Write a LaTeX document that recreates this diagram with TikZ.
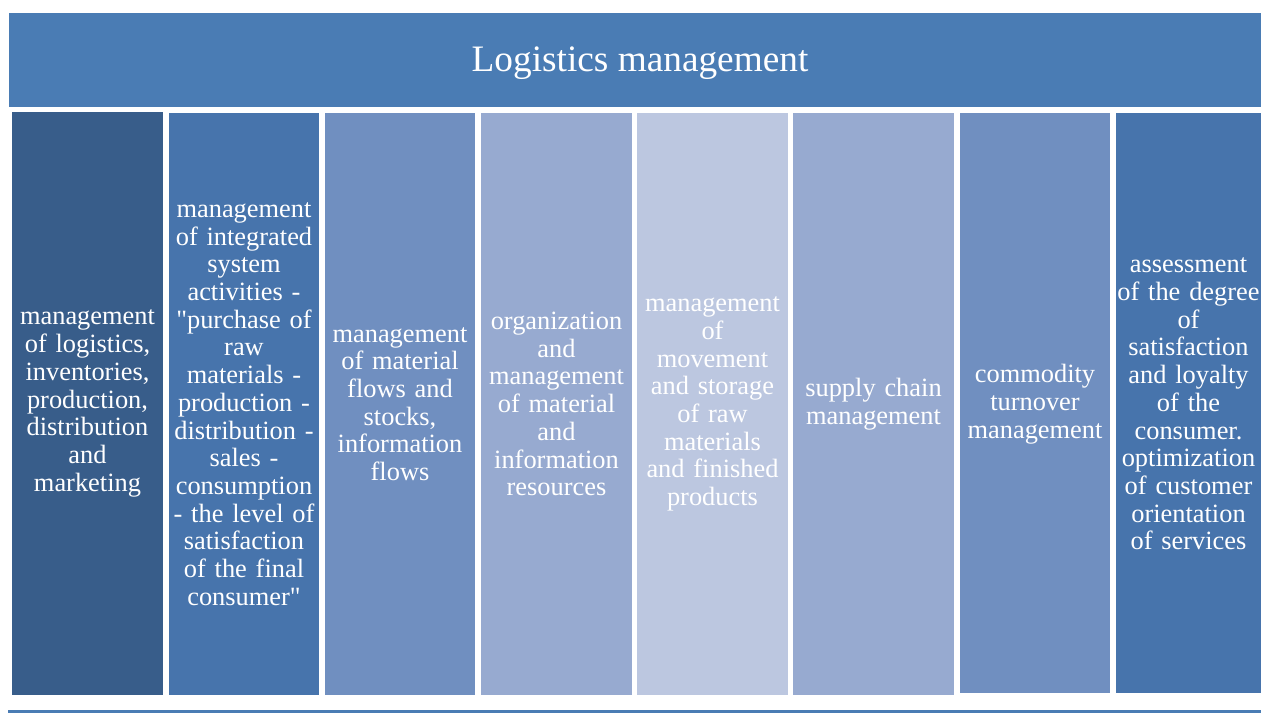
\documentclass[tikz,border=0pt]{standalone}
\usepackage{fontspec}
\setmainfont{Liberation Serif}
\definecolor{hdr}{HTML}{4A7CB4}
\definecolor{cA}{HTML}{385D8A}
\definecolor{cB}{HTML}{4774AC}
\definecolor{cC}{HTML}{708FC0}
\definecolor{cD}{HTML}{97AAD0}
\definecolor{cE}{HTML}{BCC7E0}
\begin{document}
\begin{tikzpicture}[x=1pt,y=-1pt,
  colbox/.style={inner sep=0pt, align=center, text=white,
    font=\fontsize{26.4pt}{27.7pt}\selectfont}]
\useasboundingbox[fill=white] (0,0) rectangle (1261,713);
% header
\fill[hdr] (9,13) rectangle (1261,107);
\node[text=white, font=\fontsize{37.3pt}{40pt}\selectfont] (title) at (640,63) {Logistics management};
% columns
\fill[cA] (12,112) rectangle (163,695);
\node[colbox, text width=151pt] (c1) at (87.5,403.5) {management\\of logistics,\\inventories,\\production,\\distribution\\and\\marketing};
\fill[cB] (169,113) rectangle (319,695);
\node[colbox, text width=150pt] (c2) at (244,404) {management\\of integrated\\system\\activities -\\\textquotedbl purchase of\\raw\\materials -\\production -\\distribution -\\sales -\\consumption\\- the level of\\satisfaction\\of the final\\consumer\textquotedbl};
\fill[cC] (325,113) rectangle (475,695);
\node[colbox, text width=150pt] (c3) at (400,404) {management\\of material\\flows and\\stocks,\\information\\flows};
\fill[cD] (481,113) rectangle (632,695);
\node[colbox, text width=151pt] (c4) at (556.5,404) {organization\\and\\management\\of material\\and\\information\\resources};
\fill[cE] (637,113) rectangle (788,695);
\node[colbox, text width=151pt] (c5) at (712.5,404) {management\\of\\movement\\and storage\\of raw\\materials\\and finished\\products};
\fill[cD] (793,113) rectangle (954,695);
\node[colbox, text width=161pt] (c6) at (873.5,404) {supply chain\\management};
\fill[cC] (960,113) rectangle (1110,693);
\node[colbox, text width=150pt] (c7) at (1035,404) {commodity\\turnover\\management};
\fill[cB] (1116,113) rectangle (1261,693);
\node[colbox, text width=145pt] (c8) at (1188.5,404) {assessment\\of the degree\\of\\satisfaction\\and loyalty\\of the\\consumer.\\optimization\\of customer\\orientation\\of services};
% bottom rule
\fill[hdr] (8,710) rectangle (1261,713);
\end{tikzpicture}
\end{document}
